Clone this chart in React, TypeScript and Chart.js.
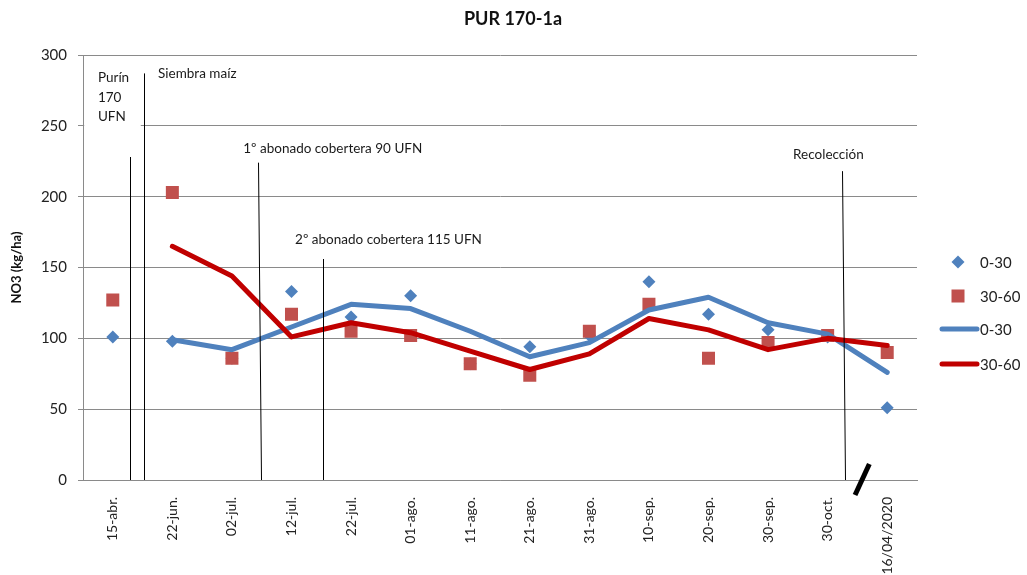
import React, { useEffect, useRef } from 'react';
import { Chart, registerables } from 'chart.js';

Chart.register(...registerables);

// ---------- data ----------
const categories = ['15-abr.', '22-jun.', '02-jul.', '12-jul.', '22-jul.', '01-ago.', '11-ago.', '21-ago.', '31-ago.', '10-sep.', '20-sep.', '30-sep.', '30-oct.', '16/04/2020'];
const points0030 = [101, 98, 86, 133, 115, 130, 82, 94, 102, 140, 117, 106, 101, 51];
const points3060 = [127, 203, 86, 117, 105, 102, 82, 74, 105, 124, 86, 97, 102, 90];
const line0030 = [null, 99, 92, 108, 124, 121, 105, 87, 97, 120, 129, 111, 103, 76];
const line3060 = [null, 165, 144, 101, 111, 104, 91, 78, 89, 114, 106, 92, 100, 95];
const seriesNames = ['0-30', '30-60', '0-30', '30-60'];
const yMin = 0;
const yMax = 300;
const yStep = 50;
const chartTitle = 'PUR 170-1a';
const yAxisTitle = 'NO3 (kg/ha)';

// ---------- annotations (category index / axis value) ----------
const markerLines = [
  { xTop: 0.29, xBot: 0.29, top: 228 },
  { xTop: 0.525, xBot: 0.525, top: 287 },
  { xTop: 2.44, xBot: 2.49, top: 224 },
  { xTop: 3.53, xBot: 3.53, top: 156 },
  { xTop: 12.24, xBot: 12.29, top: 218 },
];
const markerTexts = [
  { text: 'Purín', x: -0.25, y: 283.8 },
  { text: '170', x: -0.25, y: 269.8 },
  { text: 'UFN', x: -0.25, y: 256.2 },
  { text: 'Siembra maíz', x: 0.76, y: 286.6 },
  { text: '1º abonado cobertera 90 UFN', x: 2.19, y: 233.6 },
  { text: '2º abonado cobertera 115 UFN', x: 3.06, y: 169.4 },
  { text: 'Recolección', x: 11.42, y: 230 },
];

const FONT = 'Lato, "Open Sans", sans-serif';
const BLUE = '#4F81BD';
const RED_PT = '#C0504D';
const RED_LN = '#C00000';
const GRID = '#8a8a8a';

const annotationPlugin = {
  id: 'annotationsCustom',
  beforeDatasetsDraw(chart: any) {
    const { ctx, scales } = chart;
    const x = scales.x, y = scales.y;
    // white text box behind "Purín 170 UFN"
    ctx.save();
    ctx.fillStyle = '#ffffff';
    const l = x.getPixelForValue(-0.48);
    const r = x.getPixelForValue(0.47);
    const t = y.getPixelForValue(291);
    const b = y.getPixelForValue(241);
    ctx.fillRect(l, t, r - l, b - t);
    ctx.restore();
  },
  afterDraw(chart: any) {
    const { ctx, scales } = chart;
    const x = scales.x, y = scales.y;
    ctx.save();
    // vertical marker lines
    ctx.strokeStyle = '#000';
    ctx.lineWidth = 1;
    markerLines.forEach((m) => {
      ctx.beginPath();
      ctx.moveTo(Math.round(x.getPixelForValue(m.xTop)) + 0.5, y.getPixelForValue(m.top));
      ctx.lineTo(Math.round(x.getPixelForValue(m.xBot)) + 0.5, y.getPixelForValue(0));
      ctx.stroke();
    });
    // axis break slash
    ctx.lineWidth = 5;
    ctx.lineCap = 'butt';
    ctx.beginPath();
    ctx.moveTo(x.getPixelForValue(12.46), y.getPixelForValue(-10.6));
    ctx.lineTo(x.getPixelForValue(12.70), y.getPixelForValue(11.3));
    ctx.stroke();
    // texts
    ctx.fillStyle = '#1a1a1a';
    ctx.font = `13.5px ${FONT}`;
    ctx.textAlign = 'left';
    ctx.textBaseline = 'middle';
    markerTexts.forEach((m) => {
      ctx.fillText(m.text, x.getPixelForValue(m.x), y.getPixelForValue(m.y));
    });
    // title
    ctx.font = `bold 18px ${FONT}`;
    ctx.textAlign = 'center';
    ctx.fillStyle = '#111';
    ctx.fillText(chartTitle, 513, 19);

    // legend
    const lx = chart.chartArea.right + 41;
    const tx = chart.chartArea.right + 63;
    const rows = [262, 296, 329, 364];
    ctx.font = `15px ${FONT}`;
    ctx.textAlign = 'left';
    // diamond
    ctx.fillStyle = BLUE;
    ctx.beginPath();
    ctx.moveTo(lx, rows[0] - 6.5);
    ctx.lineTo(lx + 6.5, rows[0]);
    ctx.lineTo(lx, rows[0] + 6.5);
    ctx.lineTo(lx - 6.5, rows[0]);
    ctx.closePath();
    ctx.fill();
    // square
    ctx.fillStyle = RED_PT;
    ctx.fillRect(lx - 6.5, rows[1] - 6.5, 13, 13);
    // lines
    ctx.lineCap = 'round';
    ctx.lineWidth = 5;
    ctx.strokeStyle = BLUE;
    ctx.beginPath();
    ctx.moveTo(lx - 16, rows[2]);
    ctx.lineTo(lx + 19, rows[2]);
    ctx.stroke();
    ctx.strokeStyle = RED_LN;
    ctx.beginPath();
    ctx.moveTo(lx - 16, rows[3]);
    ctx.lineTo(lx + 19, rows[3]);
    ctx.stroke();
    ctx.fillStyle = '#222';
    seriesNames.forEach((n, i) => ctx.fillText(n, tx, rows[i] + 1));
    ctx.restore();
  },
};

export default function App() {
  const ref = useRef<HTMLCanvasElement>(null);
  useEffect(() => {
    if (!ref.current) return;
    const chart = new Chart(ref.current, {
      type: 'line',
      data: {
        labels: categories,
        datasets: [
          {
            label: seriesNames[0],
            data: points0030,
            showLine: false,
            pointStyle: 'rectRot',
            pointRadius: 6.5,
            pointHoverRadius: 6.5,
            pointBackgroundColor: BLUE,
            pointBorderWidth: 0,
            borderColor: BLUE,
            backgroundColor: BLUE,
            order: 4,
          },
          {
            label: seriesNames[1],
            data: points3060,
            showLine: false,
            pointStyle: 'rect',
            pointRadius: 9.2,
            pointHoverRadius: 9.2,
            pointBackgroundColor: RED_PT,
            pointBorderWidth: 0,
            borderColor: RED_PT,
            backgroundColor: RED_PT,
            order: 3,
          },
          {
            label: seriesNames[2],
            data: line0030,
            borderColor: BLUE,
            borderWidth: 5,
            pointRadius: 0,
            tension: 0,
            borderCapStyle: 'round',
            borderJoinStyle: 'round',
            spanGaps: false,
            order: 2,
          },
          {
            label: seriesNames[3],
            data: line3060,
            borderColor: RED_LN,
            borderWidth: 5,
            pointRadius: 0,
            tension: 0,
            borderCapStyle: 'round',
            borderJoinStyle: 'round',
            order: 1,
          },
        ],
      },
      options: {
        responsive: false,
        animation: false,
        devicePixelRatio: 1,
        layout: { padding: { top: 55, right: 110, left: 0, bottom: 0 } },
        plugins: {
          legend: { display: false },
          title: { display: false },
          tooltip: { enabled: false },
        },
        scales: {
          x: {
            type: 'category',
            offset: true,
            grid: { display: false, drawTicks: false },
            border: { display: true, color: GRID, width: 1 },
            ticks: {
              minRotation: 90,
              maxRotation: 90,
              autoSkip: false,
              padding: 17,
              color: '#222',
              font: { family: FONT, size: 14 },
            },
            afterFit(scale: any) {
              scale.height = 95;
            },
          },
          y: {
            min: yMin,
            max: yMax,
            ticks: {
              stepSize: yStep,
              padding: 11,
              color: '#222',
              font: { family: FONT, size: 15 },
            },
            grid: { color: GRID, lineWidth: 1, tickLength: 5, drawTicks: true },
            border: { display: true, color: GRID, width: 1 },
            title: {
              display: true,
              text: yAxisTitle,
              color: '#111',
              font: { family: FONT, size: 13, weight: 'bold' },
              padding: { top: 9, bottom: 0 },
            },
            afterFit(scale: any) {
              scale.width = 83;
            },
          },
        },
      },
      plugins: [annotationPlugin],
    });
    return () => chart.destroy();
  }, []);
  return (
    <div style={{ position: 'absolute', left: 0, top: 0, width: 1027, height: 575, background: '#fff' }}>
      <canvas ref={ref} width={1027} height={575} style={{ display: 'block' }} />
    </div>
  );
}
